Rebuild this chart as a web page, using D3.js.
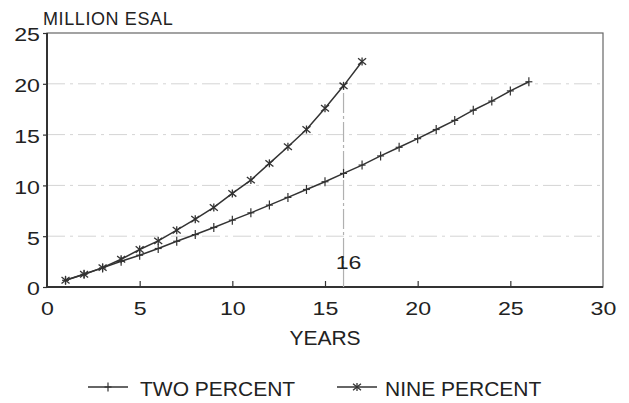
<!DOCTYPE html>
<html>
<head>
<meta charset="utf-8">
<script src="https://cdn.jsdelivr.net/npm/d3@7"></script>
<style>
  html, body { margin: 0; padding: 0; background: #fff; }
  svg { display: block; }
  text { font-family: "Liberation Sans", Arial, Helvetica, sans-serif; fill: #222; }
</style>
</head>
<body>
<svg id="chart" width="629" height="403"></svg>
<script>
const yearsTwo = [1,2,3,4,5,6,7,8,9,10,11,12,13,14,15,16,17,18,19,20,21,22,23,24,25,26];
const twoPercent = [0.66,1.25,1.88,2.53,3.13,3.79,4.5,5.16,5.86,6.58,7.3,8.06,8.82,9.6,10.36,11.18,12.0,12.9,13.75,14.6,15.5,16.4,17.4,18.3,19.3,20.2];
const yearsNine = [1,2,3,4,5,6,7,8,9,10,11,12,13,14,15,16,17];
const ninePercent = [0.66,1.25,1.91,2.73,3.69,4.54,5.59,6.68,7.83,9.21,10.52,12.17,13.8,15.5,17.6,19.8,22.2];
const xTicks = [0,5,10,15,20,25,30];
const yTicks = [0,5,10,15,20,25];
const gridValues = [5,10,15,20];
const markerYear = 16;
const yTitle = "MILLION ESAL";
const xTitle = "YEARS";
const seriesNames = ["TWO PERCENT", "NINE PERCENT"];

const svg = d3.select("#chart");
const x = d3.scaleLinear().domain([0,30]).range([47,603]);
const y = d3.scaleLinear().domain([0,25]).range([287,33]);
const ink = "#333";

// gridlines
svg.append("g").selectAll("line").data(gridValues).join("line")
  .attr("x1", x(0)).attr("x2", x(30))
  .attr("y1", d => y(d)).attr("y2", d => y(d))
  .attr("stroke", "#d4d4d4").attr("stroke-width", 1)
  .attr("stroke-dasharray", "18,5,3,5");

// frame
svg.append("rect")
  .attr("x", x(0)).attr("y", y(25))
  .attr("width", x(30)-x(0)).attr("height", y(0)-y(25))
  .attr("fill", "none").attr("stroke", "#666").attr("stroke-width", 1.2);
svg.append("line").attr("x1", x(0)).attr("x2", x(30)).attr("y1", y(0)).attr("y2", y(0))
  .attr("stroke", ink).attr("stroke-width", 2);
svg.append("line").attr("x1", x(0)).attr("x2", x(0)).attr("y1", y(0)).attr("y2", y(25))
  .attr("stroke", ink).attr("stroke-width", 2);

// x axis ticks (inward) and labels
const xAxis = d3.axisBottom(x).tickValues(xTicks).tickSize(0).tickPadding(0).tickFormat(d3.format("d"));
const gx = svg.append("g").attr("transform", `translate(0,${y(0)})`).call(xAxis);
gx.select(".domain").remove();
gx.selectAll(".tick text")
  .attr("font-size", 19).attr("fill", "#222")
  .attr("font-family", "Liberation Sans, Arial, sans-serif")
  .attr("dy", null).attr("y", 28)
  .attr("transform", "scale(1.22,1)")
  .attr("text-anchor", "middle");
gx.selectAll(".tick").filter(d => d > 0 && d < 30).append("line")
  .attr("y1", 0).attr("y2", -6).attr("stroke", ink).attr("stroke-width", 1.2);

// y axis
const yAxis = d3.axisLeft(y).tickValues(yTicks).tickSize(4).tickPadding(4).tickFormat(d3.format("d"));
const gy = svg.append("g").attr("transform", `translate(${x(0)},0)`).call(yAxis);
gy.select(".domain").remove();
gy.selectAll(".tick line").attr("stroke", ink).attr("stroke-width", 1.2);
gy.selectAll(".tick text")
  .attr("font-size", 19).attr("fill", "#222")
  .attr("font-family", "Liberation Sans, Arial, sans-serif")
  .attr("x", -7/1.22).attr("dy", "0.42em")
  .attr("transform", "scale(1.22,1)")
  .attr("text-anchor", "end");

// titles
svg.append("text").attr("x", 43).attr("y", 25).attr("font-size", 18)
  .attr("letter-spacing", "0.6px").text(yTitle);
svg.append("text").attr("x", 325).attr("y", 345).attr("font-size", 21)
  .attr("text-anchor", "middle").text(xTitle);

// vertical marker line at 16
const nineAt = ninePercent[yearsNine.indexOf(markerYear)];
svg.append("line")
  .attr("x1", x(markerYear)).attr("x2", x(markerYear))
  .attr("y1", y(0)).attr("y2", y(nineAt))
  .attr("stroke", "#b0b0b0").attr("stroke-width", 1.2).attr("stroke-dasharray", "20,3,3,3");
svg.append("text").attr("x", x(markerYear) + 5).attr("y", 269)
  .attr("font-size", 19).attr("text-anchor", "middle")
  .attr("transform", `translate(${-(x(markerYear)+5)*0.22},0) scale(1.22,1)`)
  .text(String(markerYear));

// lines
const line = d3.line().x(d => x(d[0])).y(d => y(d[1]));
const twoData = yearsTwo.map((v,i) => [v, twoPercent[i]]);
const nineData = yearsNine.map((v,i) => [v, ninePercent[i]]);
svg.append("path").datum(twoData).attr("d", line)
  .attr("fill", "none").attr("stroke", ink).attr("stroke-width", 1.5);
svg.append("path").datum(nineData).attr("d", line)
  .attr("fill", "none").attr("stroke", ink).attr("stroke-width", 1.5);

function plusMarker(g, cx, cy) {
  g.append("line").attr("x1", cx).attr("x2", cx).attr("y1", cy-4.5).attr("y2", cy+4.5)
    .attr("stroke", ink).attr("stroke-width", 1.2);
  g.append("line").attr("x1", cx-3.5).attr("x2", cx+3.5).attr("y1", cy).attr("y2", cy)
    .attr("stroke", ink).attr("stroke-width", 1.2);
}
function starMarker(g, cx, cy) {
  const r = 4;
  g.append("line").attr("x1", cx).attr("x2", cx).attr("y1", cy-r).attr("y2", cy+r)
    .attr("stroke", ink).attr("stroke-width", 1.3);
  g.append("line").attr("x1", cx-r).attr("x2", cx+r).attr("y1", cy-r*0.8).attr("y2", cy+r*0.8)
    .attr("stroke", ink).attr("stroke-width", 1.3);
  g.append("line").attr("x1", cx-r).attr("x2", cx+r).attr("y1", cy+r*0.8).attr("y2", cy-r*0.8)
    .attr("stroke", ink).attr("stroke-width", 1.3);
}
const mg = svg.append("g");
twoData.forEach(d => plusMarker(mg, x(d[0]), y(d[1])));
nineData.forEach(d => starMarker(mg, x(d[0]), y(d[1])));

// legend
const lg = svg.append("g");
lg.append("line").attr("x1", 88).attr("x2", 128).attr("y1", 387).attr("y2", 387).attr("stroke", ink).attr("stroke-width", 1.3);
plusMarker(lg, 108, 387);
lg.append("text").attr("x", 140).attr("y", 396).attr("font-size", 21).text(seriesNames[0]);
lg.append("line").attr("x1", 337).attr("x2", 377).attr("y1", 387).attr("y2", 387).attr("stroke", ink).attr("stroke-width", 1.3);
starMarker(lg, 357, 387);
lg.append("text").attr("x", 385).attr("y", 396).attr("font-size", 21).text(seriesNames[1]);
</script>
</body>
</html>
